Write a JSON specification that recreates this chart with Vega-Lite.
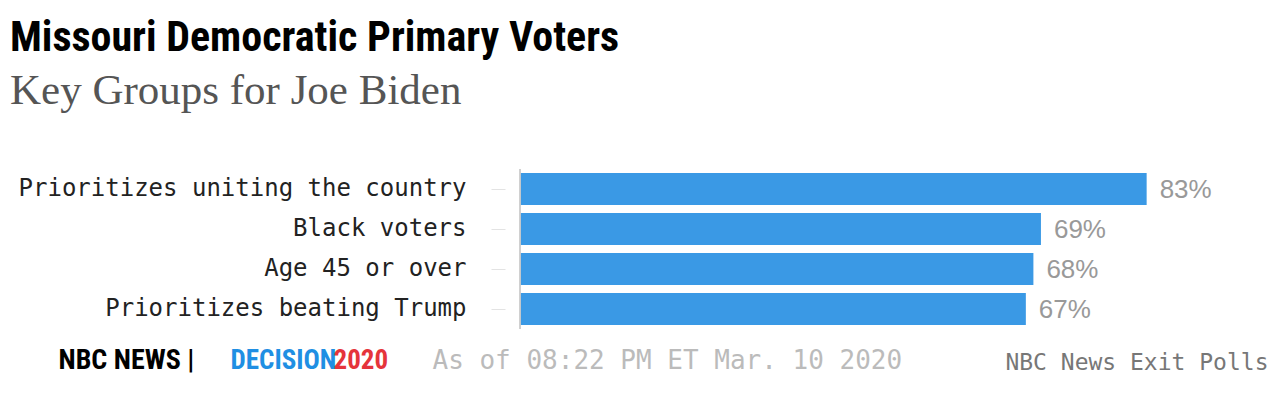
{
  "$schema": "https://vega.github.io/schema/vega-lite/v6.json",
  "width": 755,
  "height": 160,
  "autosize": {"type": "none"},
  "padding": {"left": 520, "top": 169, "right": 5, "bottom": 65},
  "background": "white",
  "title": {
    "text": "Missouri Democratic Primary Voters",
    "subtitle": "Key Groups for Joe Biden",
    "anchor": "start",
    "frame": "group",
    "dx": -510,
    "offset": 55,
    "font": "Liberation Sans Narrow, Roboto Condensed, Roboto, sans-serif",
    "fontSize": 42,
    "fontWeight": "bold",
    "color": "#000000",
    "subtitleFont": "Liberation Serif, serif",
    "subtitleFontSize": 43,
    "subtitleColor": "#555555",
    "subtitlePadding": 10
  },
  "data": {
    "values": [
      {"group": "Prioritizes uniting the country", "value": 0.83},
      {"group": "Black voters", "value": 0.69},
      {"group": "Age 45 or over", "value": 0.68},
      {"group": "Prioritizes beating Trump", "value": 0.67}
    ]
  },
  "config": {
    "view": {"stroke": null},
    "axis": {"domain": false, "ticks": false, "labels": false, "grid": false}
  },
  "resolve": {"axis": {"x": "independent", "y": "independent"}},
  "layer": [
    {
      "mark": {"type": "bar", "color": "#3a99e5"},
      "encoding": {
        "y": {
          "field": "group", "type": "nominal", "sort": null,
          "scale": {"paddingInner": 0.2, "paddingOuter": 0.1},
          "axis": {
            "orient": "left", "labels": true, "ticks": true, "offset": 15,
            "tickSize": 14, "tickColor": "#e3e3e3", "tickWidth": 1,
            "labelPadding": 25, "labelFont": "DejaVu Sans Mono", "labelFontSize": 24,
            "labelColor": "#222222", "labelLimit": 700,
            "title": "As of 08:22 PM ET Mar. 10 2020", "titleAngle": 0,
            "titleAlign": "left", "titleBaseline": "alphabetic",
            "titleX": -73, "titleY": 199,
            "titleFont": "DejaVu Sans Mono", "titleFontSize": 26,
            "titleFontWeight": "normal", "titleColor": "#bbbbbb"
          }
        },
        "x": {
          "field": "value", "type": "quantitative",
          "scale": {"domain": [0, 1]},
          "axis": {
            "orient": "bottom",
            "title": "NBC News Exit Polls", "titleAlign": "right",
            "titleBaseline": "alphabetic", "titleX": 748, "titleY": 40,
            "titleFont": "DejaVu Sans Mono", "titleFontSize": 23,
            "titleFontWeight": "normal", "titleColor": "#777777"
          }
        }
      }
    },
    {
      "mark": {"type": "text", "align": "left", "baseline": "middle", "dx": 13, "dy": 1,
               "font": "Liberation Sans", "fontSize": 26, "color": "#999999"},
      "encoding": {
        "y": {
          "field": "group", "type": "nominal", "sort": null,
          "axis": {
            "orient": "right",
            "title": "2020", "titleAngle": 0, "titleAlign": "left",
            "titleBaseline": "alphabetic", "titleX": -942, "titleY": 199,
            "titleFont": "Liberation Sans Narrow, Roboto Condensed, Roboto, sans-serif",
            "titleFontSize": 27, "titleFontWeight": "bold", "titleColor": "#e5343b"
          }
        },
        "x": {
          "field": "value", "type": "quantitative",
          "axis": {
            "orient": "bottom",
            "title": "DECISION", "titleAlign": "left",
            "titleBaseline": "alphabetic", "titleX": -290, "titleY": 39,
            "titleFont": "Liberation Sans Narrow, Roboto Condensed, Roboto, sans-serif",
            "titleFontSize": 27, "titleFontWeight": "bold", "titleColor": "#1f8fe3"
          }
        },
        "text": {"field": "value", "type": "quantitative", "format": ".0%"}
      }
    },
    {
      "mark": {"type": "rule", "color": "#cccccc", "strokeWidth": 1},
      "encoding": {
        "x": {
          "datum": 0, "type": "quantitative",
          "axis": {
            "orient": "bottom",
            "title": "NBC NEWS  |", "titleAlign": "left",
            "titleBaseline": "alphabetic", "titleX": -462, "titleY": 39,
            "titleFont": "Liberation Sans Narrow, Roboto Condensed, Roboto, sans-serif",
            "titleFontSize": 28, "titleFontWeight": "bold", "titleColor": "#000000"
          }
        }
      }
    }
  ]
}
